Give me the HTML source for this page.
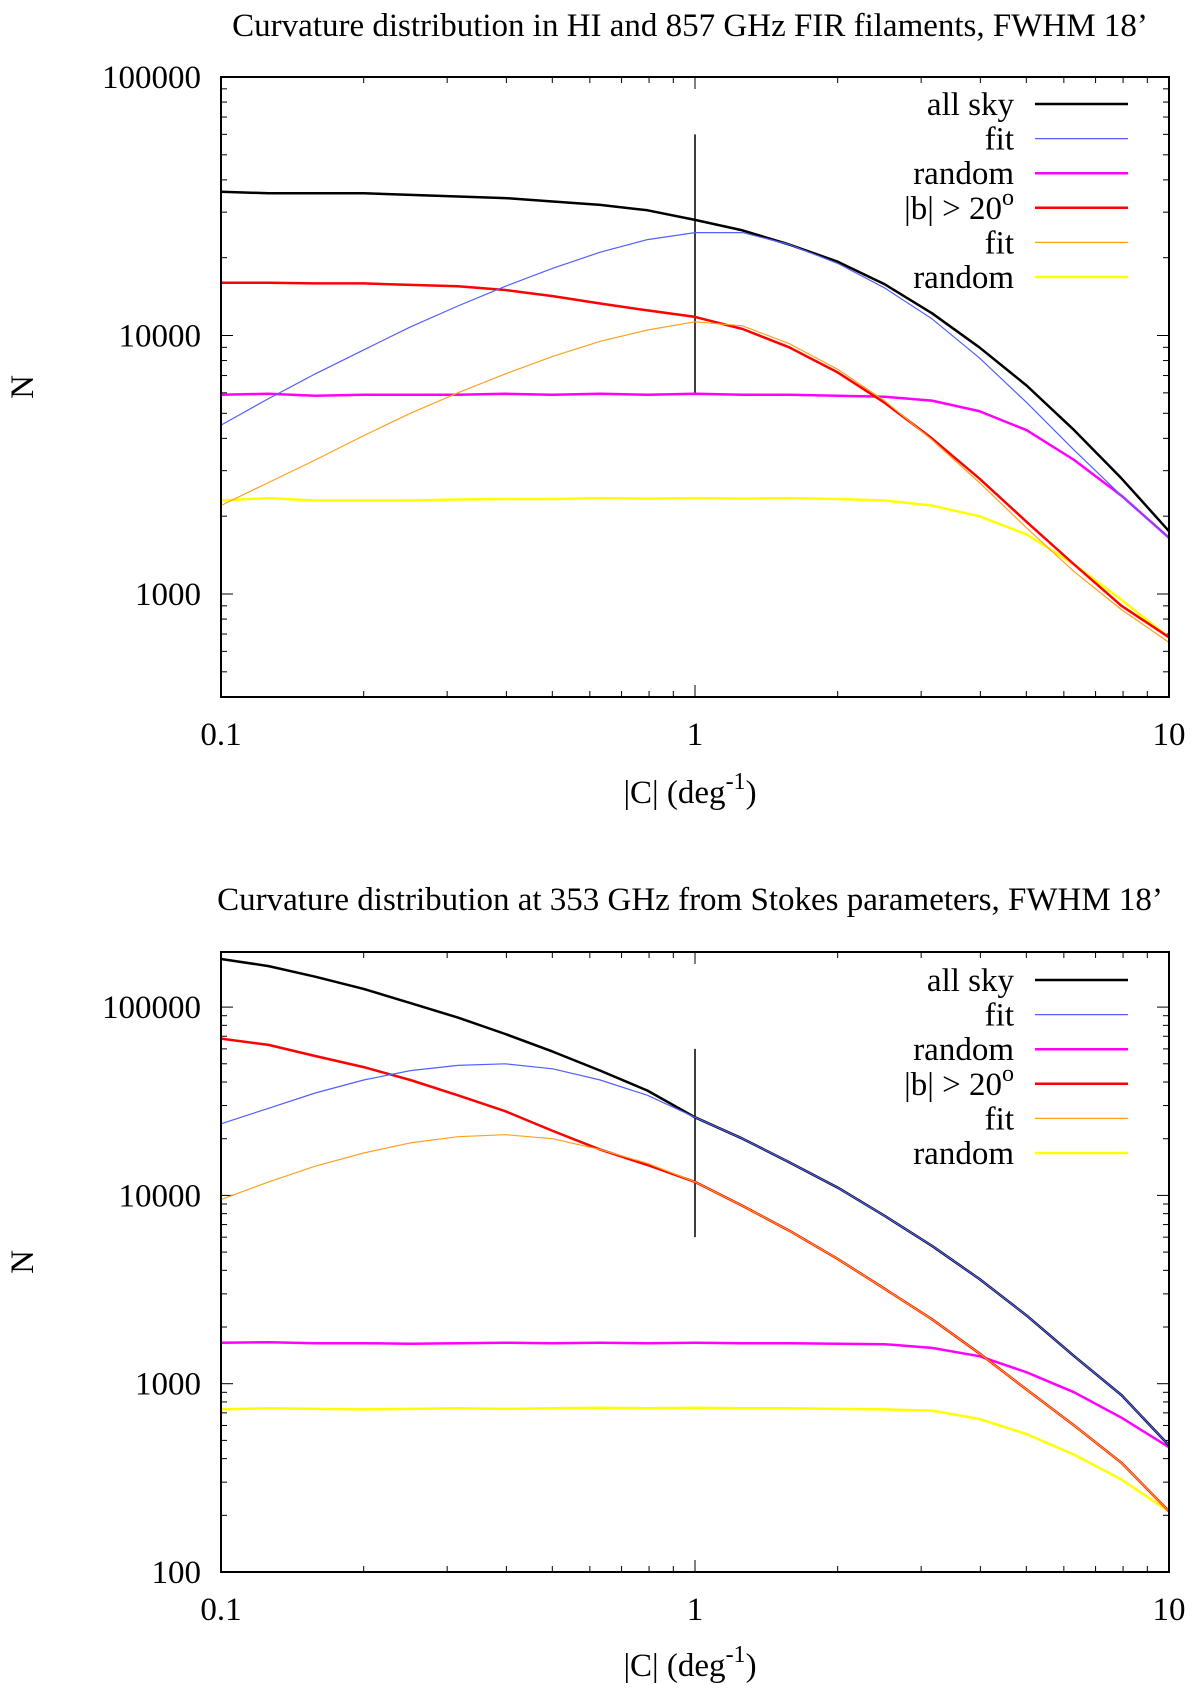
<!DOCTYPE html>
<html><head><meta charset="utf-8">
<style>
html,body{margin:0;padding:0;background:#fff;}
svg{display:block;}
text{font-family:"Liberation Serif",serif;fill:#000;}
</style></head>
<body>
<svg id="chart" width="1200" height="1691" viewBox="0 0 1200 1691" xmlns="http://www.w3.org/2000/svg"></svg>
<script>
// shared x sample points (|C| in deg^-1)
const xVals = [0.1,0.126,0.158,0.2,0.251,0.316,0.398,0.501,0.631,0.794,1,1.26,1.58,2,2.51,3.16,3.98,5.01,6.31,7.94,10];
const xTicks = [0.1,1,10];
const xTickLabels = ["0.1","1","10"];

// Panel 1 data
const p1AllSky = [36000,35500,35500,35500,35000,34500,34000,33000,32000,30500,28000,25500,22500,19300,15800,12200,9000,6400,4300,2800,1750];
const p1Fit = [4500,5700,7100,8800,10800,13000,15500,18200,21000,23500,25000,25000,22500,19000,15300,11600,8200,5500,3600,2400,1650];
const p1Random = [5900,5950,5850,5900,5900,5900,5950,5900,5950,5900,5950,5900,5900,5850,5800,5600,5100,4300,3300,2400,1650];
const p1B20 = [16000,16000,15900,15900,15700,15500,15000,14200,13300,12500,11800,10600,9000,7200,5500,4000,2800,1900,1300,900,680];
const p1B20Fit = [2200,2700,3300,4100,5000,6000,7100,8300,9500,10500,11300,10900,9300,7400,5600,3950,2700,1800,1220,870,650];
const p1B20Random = [2300,2350,2300,2300,2300,2320,2330,2330,2350,2340,2350,2340,2350,2330,2300,2200,2000,1700,1300,950,680];
const p1YTicks = [1000,10000,100000];
const p1YTickLabels = ["1000","10000","100000"];

// Panel 2 data
const p2AllSky = [180000,165000,145000,125000,105000,88000,72000,58000,46000,36000,26000,20000,15000,11000,7800,5400,3600,2300,1400,870,470];
const p2Fit = [24000,29000,35000,41000,46000,49000,50000,47000,41000,34000,26000,20000,15000,11000,7800,5400,3600,2300,1400,870,470];
const p2Random = [1650,1660,1640,1640,1630,1640,1650,1640,1650,1640,1650,1640,1640,1630,1620,1550,1400,1150,900,660,460];
const p2B20 = [68000,63000,55000,48000,41000,34000,28000,22000,17500,14500,11800,8800,6500,4600,3200,2200,1450,930,600,380,210];
const p2B20Fit = [9500,11800,14300,16800,19000,20500,21000,20000,17500,14800,11800,8800,6500,4600,3200,2200,1450,930,600,380,210];
const p2B20Random = [730,740,735,730,735,740,735,740,745,740,745,740,740,735,730,720,650,540,420,310,210];
const p2YTicks = [100,1000,10000,100000];
const p2YTickLabels = ["100","1000","10000","100000"];

const NS = "http://www.w3.org/2000/svg";
const svg = document.getElementById('chart');
function mk(tag, attrs, parent){
  const e = document.createElementNS(NS, tag);
  for (const k in attrs) e.setAttribute(k, attrs[k]);
  (parent||svg).appendChild(e);
  return e;
}
const FS = 33;

function panel(cfg){
  const g = mk('g', {});
  
  
  const L=221, R=1169, T=cfg.top, B=cfg.bottom;
  const xs = v => L + (Math.log10(v) - (-1)) / 2 * (R - L);
  const ys = v => T + (Math.log10(cfg.yMax) - Math.log10(v)) / (Math.log10(cfg.yMax) - Math.log10(cfg.yMin)) * (B - T);

  const title = mk('text', {x:690, y:cfg.titleY, 'font-size':FS, 'text-anchor':'middle'}, g);
  title.textContent = cfg.title;
  
  

  const tg = mk('g', {stroke:'#000','stroke-width':1}, g);
  for (let d=-1; d<1; d++){
    for (let m=1; m<10; m++){
      const v = m*Math.pow(10,d);
      const x = xs(v), len = m===1?12:6;
      mk('line',{x1:x,y1:B,x2:x,y2:B-len},tg);
      mk('line',{x1:x,y1:T,x2:x,y2:T+len},tg);
    }
  }
  const lo = Math.floor(Math.log10(cfg.yMin)), hi = Math.ceil(Math.log10(cfg.yMax));
  for (let d=lo; d<=hi; d++){
    for (let m=1; m<10; m++){
      const v = m*Math.pow(10,d);
      if (v < cfg.yMin*0.999 || v > cfg.yMax*1.001) continue;
      const y = ys(v), len = m===1?12:6;
      mk('line',{x1:L,y1:y,x2:L+len,y2:y},tg);
      mk('line',{x1:R,y1:y,x2:R-len,y2:y},tg);
    }
  }
  xTicks.forEach((v,i)=>{
    const t = mk('text',{x:xs(v), y:cfg.xTickY, 'font-size':FS,'text-anchor':'middle'},g);
    t.textContent = xTickLabels[i];
    
    
  });
  cfg.yTicks.forEach((v,i)=>{
    const t = mk('text',{x:201, y:ys(v)+11, 'font-size':FS,'text-anchor':'end'},g);
    t.textContent = cfg.yTickLabels[i];
    
    
  });
  const xl = mk('text',{x:690, y:cfg.xLabelY, 'font-size':FS,'text-anchor':'middle'},g);
  xl.innerHTML = '|C| (deg<tspan dy="-14" font-size="24">-1</tspan><tspan dy="14">)</tspan>';
  
  
  const yl = mk('text',{x:0, y:0, 'font-size':FS,'text-anchor':'middle', transform:`translate(33,${(T+B)/2}) rotate(-90)`},g);
  yl.textContent = 'N';
  
  

  const vl = mk('line',{x1:xs(1),x2:xs(1),y1:ys(60000),y2:ys(6000),stroke:'#000','stroke-width':1.5},g);
  
  

  const series = [
    {d:cfg.s[0], c:'#000', w:2.5, n:'all-sky-line'},
    {d:cfg.s[1], c:'#5060ff', w:1.2, n:'all-sky-fit-line'},
    {d:cfg.s[2], c:'#ff00ff', w:2.5, n:'all-sky-random-line'},
    {d:cfg.s[3], c:'#ff0000', w:2.5, n:'high-lat-line'},
    {d:cfg.s[4], c:'#ffa020', w:1.2, n:'high-lat-fit-line'},
    {d:cfg.s[5], c:'#ffff00', w:2.5, n:'high-lat-random-line'}
  ];
  const drawOrder = [5,2,3,0,4,1];
  drawOrder.forEach(i=>{
    const s = series[i];
    const pts = s.d.map((v,j)=>xs(xVals[j]).toFixed(1)+','+ys(v).toFixed(1)).join(' ');
    const p = mk('polyline',{points:pts, fill:'none', stroke:s.c, 'stroke-width':s.w, 'stroke-linejoin':'round'},g);
    
    
  });

  const fr = mk('rect',{x:L,y:T,width:R-L,height:B-T,fill:'none',stroke:'#000','stroke-width':2},g);
  
  

  const labels = ['all sky','fit','random','|b| > 20','fit','random'];
  labels.forEach((lab,i)=>{
    const y = cfg.legendY + i*34.6;
    const t = mk('text',{x:1014, y:y+11, 'font-size':FS,'text-anchor':'end'},g);
    if (i===3) t.innerHTML = '|b| &gt; 20<tspan dy="-14" font-size="24">o</tspan>';
    else t.textContent = lab;
    
    
    const ln = mk('line',{x1:1035,x2:1128,y1:y,y2:y,stroke:series[i].c,'stroke-width':series[i].w},g);
    
    
  });
}

panel({name:'top-chart', top:77, bottom:697, yMax:100000, yMin:100000/Math.pow(10,620/258.5),
  title:'Curvature distribution in HI and 857 GHz FIR filaments, FWHM 18\u2019', titleY:36,
  xTickY:745, xLabelY:803, legendY:104,
  yTicks:p1YTicks, yTickLabels:p1YTickLabels,
  s:[p1AllSky,p1Fit,p1Random,p1B20,p1B20Fit,p1B20Random]});

panel({name:'bottom-chart', top:952, bottom:1572, yMax:100*Math.pow(10,620/188.3), yMin:100,
  title:'Curvature distribution at 353 GHz from Stokes parameters, FWHM 18\u2019', titleY:910,
  xTickY:1620, xLabelY:1676, legendY:980,
  yTicks:p2YTicks, yTickLabels:p2YTickLabels,
  s:[p2AllSky,p2Fit,p2Random,p2B20,p2B20Fit,p2B20Random]});
</script>
</body></html>
